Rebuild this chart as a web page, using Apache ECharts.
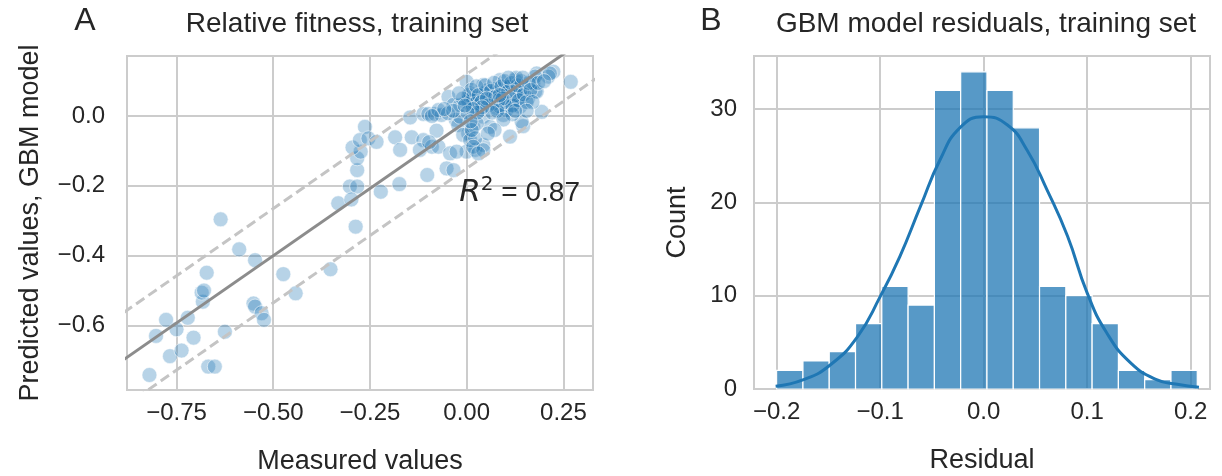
<!DOCTYPE html>
<html>
<head>
<meta charset="utf-8">
<script src="https://cdn.jsdelivr.net/npm/echarts/dist/echarts.min.js"></script>
<style>
  html, body { margin: 0; padding: 0; background: #fff; }
  #main { width: 1222px; height: 476px; }
</style>
</head>
<body>
<div id="main"></div>
<script>
// panel A: measured vs predicted
var measured = [
  -0.820,-0.767,-0.737,-0.668,-0.651,-0.803,-0.777,-0.750,-0.721,-0.706,
  -0.625,-0.682,-0.685,-0.679,-0.672,-0.636,-0.588,-0.547,-0.551,-0.547,
  -0.530,-0.524,-0.474,-0.442,-0.352,-0.332,-0.302,-0.283,-0.298,-0.287,
  -0.283,-0.283,-0.274,-0.295,-0.263,-0.276,-0.254,-0.233,-0.222,-0.174,
  -0.185,-0.172,-0.142,-0.146,-0.112,-0.121,-0.102,-0.090,-0.073,-0.078,
  -0.112,-0.099,-0.082,-0.065,-0.047,-0.043,-0.052,-0.034,0.000,0.022,
  0.043,0.000,0.004,-0.028,-0.022,0.004,0.017,0.043,0.034,0.060,
  0.112,0.146,0.194,0.142,0.224,0.181,0.211,0.269,0.177,0.043,
  0.086,0.125,0.151,0.069,0.103,0.138,0.078,0.121,0.000,0.017,
  -0.034,-0.017,0.172,0.159,0.060,0.052,0.103,0.134,0.030,0.095,
  -0.097,-0.073,-0.048,-0.017,0.009,0.021,-0.009,0.009,-0.026,
  0.017,0.043,0.026,0.078,0.095,0.112,0.138,0.121,0.138,0.069,
  0.086,0.103,0.177,0.181,0.215,0.022,0.017,0.043,0.030,0.013,
  0.005,0.012,0.025,0.031,0.038,0.048,0.055,0.063,0.071,0.074,
  0.082,0.090,0.098,0.101,0.107,0.115,0.118,0.127,0.131,0.135,
  0.141,0.148,0.155,0.160,0.165,0.128,0.108,0.093,0.079,0.066,
  0.052,0.040,0.028,0.015,0.002,-0.010,-0.020,-0.035,-0.058,-0.090,
  0.118,0.095,0.072,0.055,0.170,0.185,0.200,0.155,0.125,0.010,
  -0.005,0.085,0.145
];
var predicted = [
  -0.742,-0.688,-0.672,-0.718,-0.718,-0.630,-0.584,-0.611,-0.578,-0.635,
  -0.618,-0.532,-0.506,-0.500,-0.449,-0.296,-0.382,-0.413,-0.537,-0.546,
  -0.565,-0.584,-0.453,-0.508,-0.439,-0.250,-0.202,-0.202,-0.239,-0.317,
  -0.155,-0.121,-0.102,-0.090,-0.031,-0.069,-0.064,-0.074,-0.217,-0.195,
  -0.061,-0.097,-0.061,-0.004,-0.069,-0.097,-0.169,-0.088,-0.088,-0.042,
  0.006,0.006,0.006,0.003,0.055,-0.107,-0.150,-0.155,-0.102,-0.097,
  -0.083,0.098,0.046,-0.011,-0.026,-0.050,-0.031,-0.002,0.017,-0.031,
  -0.059,-0.029,0.012,-0.016,0.127,0.122,0.113,0.098,0.070,0.089,
  0.103,0.103,0.084,0.065,0.046,0.055,0.022,0.032,0.041,0.027,
  0.032,-0.002,0.094,0.051,0.046,0.074,0.084,0.079,0.051,0.003,
  -0.075,0.017,0.008,0.031,0.065,0.036,-0.054,-0.069,-0.102,
  0.046,0.065,-0.021,0.079,0.065,0.084,0.070,0.046,0.027,0.036,
  0.027,0.017,0.113,0.070,0.122,-0.064,-0.088,-0.098,-0.107,-0.040,
  0.060,0.075,0.085,0.060,0.040,0.088,0.030,0.072,0.095,0.055,
  0.045,0.085,0.100,0.040,0.070,0.095,0.030,0.060,0.088,0.045,
  0.100,0.062,0.040,0.095,0.075,0.110,0.110,0.050,0.015,0.010,
  0.050,0.025,0.010,0.020,0.010,0.050,0.065,0.015,0.020,0.000,
  0.005,-0.010,-0.040,-0.050,0.040,0.095,0.100,0.015,0.015,-0.015,
  0.030,0.060,0.110
];
// fitted line and +/- band, end points in data units
var fitLine = [[-0.95, -0.747], [0.40, 0.293]];
var upperBand = [[-0.95, -0.612], [0.40, 0.428]];
var lowerBand = [[-0.95, -0.882], [0.40, 0.158]];
var xTicksA = [-0.75, -0.5, -0.25, 0, 0.25];
var yTicksA = [-0.6, -0.4, -0.2, 0];

// panel B: residual histogram
var binEdges = [-0.2000,-0.1746,-0.1492,-0.1238,-0.0984,-0.0730,-0.0476,-0.0222,
  0.0032,0.0286,0.0540,0.0794,0.1048,0.1302,0.1556,0.1810,0.2064];
var counts = [2, 3, 4, 7, 11, 9, 32, 34, 32, 28, 11, 10, 7, 2, 1, 2];
var kdeX = [-0.201,-0.174,-0.148,-0.122,-0.100,-0.081,-0.061,-0.042,-0.023,0.000,
  0.023,0.042,0.061,0.081,0.100,0.119,0.142,0.167,0.187,0.208];
var kdeY = [0.3,1.0,2.6,5.6,9.9,14.2,19.6,24.6,28.0,29.2,
  28.3,25.6,21.4,16.4,10.3,6.0,2.8,1.0,0.5,0.2];
var xTicksB = [-0.2, -0.1, 0, 0.1, 0.2];
var yTicksB = [0, 10, 20, 30];

var FONT = "'Liberation Sans', Arial, sans-serif";
var TXT = '#262626';
var GRIDC = '#cccccc';

function minus(s) { return s.replace('-', '\u2212'); }

function axisBase(ticks, digits, margin) {
  return {
    type: 'value',
    axisLine: { show: false },
    axisTick: { show: false, customValues: ticks },
    axisLabel: {
      customValues: ticks, color: TXT, fontSize: 24, fontFamily: FONT, margin: margin,
      formatter: function (v) { return minus(Number(v).toFixed(digits)); }
    },
    splitLine: { show: true, lineStyle: { color: GRIDC, width: 2 } },
    nameTextStyle: { color: TXT, fontSize: 27, fontFamily: FONT }
  };
}

var myChart = echarts.init(document.getElementById('main'));

var xA = axisBase(xTicksA, 2, 11);
xA.gridIndex = 0; xA.min = -0.878; xA.max = 0.3265;
xA.name = 'Measured values'; xA.nameLocation = 'middle'; xA.nameGap = 58;
var yA = axisBase(yTicksA, 1, 22);
yA.gridIndex = 0; yA.min = -0.785; yA.max = 0.172;
yA.name = 'Predicted values, GBM model'; yA.nameLocation = 'middle'; yA.nameGap = 83;

var xB = axisBase(xTicksB, 1, 11);
xB.gridIndex = 1; xB.min = -0.2219; xB.max = 0.2187;
xB.name = 'Residual'; xB.nameLocation = 'middle'; xB.nameGap = 58;
var yB = axisBase(yTicksB, 0, 17);
yB.gridIndex = 1; yB.min = 0; yB.max = 35.7;
yB.name = 'Count'; yB.nameLocation = 'middle'; yB.nameGap = 63;

var option = {
  animation: false,
  backgroundColor: '#fff',
  textStyle: { fontFamily: FONT },
  grid: [
    { left: 127, top: 56, width: 466, height: 334, show: true, borderColor: GRIDC, borderWidth: 2, outerBoundsMode: 'none' },
    { left: 754, top: 56, width: 456, height: 333, show: true, borderColor: GRIDC, borderWidth: 2, outerBoundsMode: 'none' }
  ],
  xAxis: [xA, xB],
  yAxis: [yA, yB],
  graphic: [
    { type: 'text', x: 85, y: 21, style: { text: 'A', fontSize: 32, fontFamily: FONT, fill: TXT, align: 'center', verticalAlign: 'middle' } },
    { type: 'text', x: 357, y: 24, style: { text: 'Relative fitness, training set', fontSize: 28, fontFamily: FONT, fill: TXT, align: 'center', verticalAlign: 'middle' } },
    { type: 'text', x: 711, y: 21, style: { text: 'B', fontSize: 32, fontFamily: FONT, fill: TXT, align: 'center', verticalAlign: 'middle' } },
    { type: 'text', x: 986, y: 24, style: { text: 'GBM model residuals, training set', fontSize: 28, fontFamily: FONT, fill: TXT, align: 'center', verticalAlign: 'middle' } },
    { type: 'text', x: 580, y: 193, z: 10, style: {
        text: '{i|R}{s|2}{n| = 0.87}', align: 'right', verticalAlign: 'middle', fill: TXT,
        rich: {
          i: { fontSize: 31, fontStyle: 'italic', fontFamily: "'DejaVu Sans', sans-serif", lineHeight: 36, fill: TXT },
          s: { fontSize: 20, fontFamily: "'DejaVu Sans', sans-serif", lineHeight: 20, verticalAlign: 'top', fill: TXT },
          n: { fontSize: 28, fontFamily: FONT, lineHeight: 36, fill: TXT }
        } } }
  ],
  series: [
    {
      type: 'scatter', xAxisIndex: 0, yAxisIndex: 0,
      symbolSize: 15,
      itemStyle: { color: 'rgba(31,119,180,0.4)', borderColor: 'rgba(255,255,255,0.7)', borderWidth: 1 },
      data: measured.map(function (x, i) { return [x, predicted[i]]; })
    },
    {
      type: 'line', xAxisIndex: 0, yAxisIndex: 0, data: upperBand, symbol: 'none', clip: true,
      lineStyle: { color: '#c4c4c4', width: 3, type: [10, 5] }
    },
    {
      type: 'line', xAxisIndex: 0, yAxisIndex: 0, data: lowerBand, symbol: 'none', clip: true,
      lineStyle: { color: '#c4c4c4', width: 3, type: [10, 5] }
    },
    {
      type: 'line', xAxisIndex: 0, yAxisIndex: 0, data: fitLine, symbol: 'none', clip: true,
      lineStyle: { color: '#8c8c8c', width: 3 }
    },
    {
      type: 'custom', xAxisIndex: 1, yAxisIndex: 1,
      renderItem: function (params, api) {
        var p0 = api.coord([api.value(0), api.value(2)]);
        var p1 = api.coord([api.value(1), 0]);
        return {
          type: 'rect',
          shape: { x: p0[0], y: p0[1], width: p1[0] - p0[0], height: p1[1] - p0[1] },
          style: { fill: 'rgba(31,119,180,0.75)', stroke: '#ffffff', lineWidth: 1.2 }
        };
      },
      encode: { x: [0, 1], y: 2 },
      data: counts.map(function (c, i) { return [binEdges[i], binEdges[i + 1], c]; })
    },
    {
      type: 'line', xAxisIndex: 1, yAxisIndex: 1, smooth: true, symbol: 'none', z: 5,
      lineStyle: { color: '#1f77b4', width: 3 },
      data: kdeX.map(function (x, i) { return [x, kdeY[i]]; })
    }
  ]
};
myChart.setOption(option);
</script>
</body>
</html>
